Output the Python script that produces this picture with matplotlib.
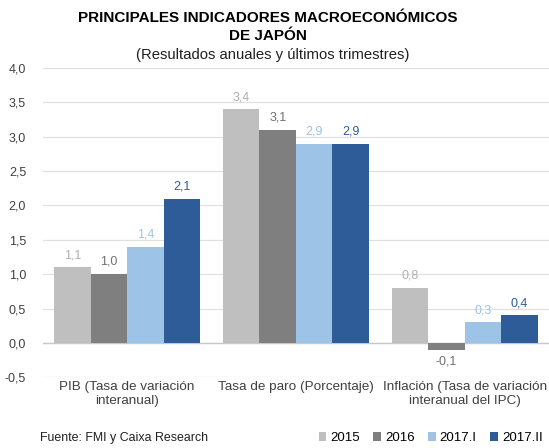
import numpy as np
import matplotlib
matplotlib.use("Agg")
import matplotlib.pyplot as plt

categories = ["PIB (Tasa de variación\ninteranual)",
              "Tasa de paro (Porcentaje)",
              "Inflación (Tasa de variación\ninteranual del IPC)"]
series = ["2015", "2016", "2017.I", "2017.II"]
v2015 = [1.1, 3.4, 0.8]
v2016 = [1.0, 3.1, -0.1]
v2017_1 = [1.4, 2.9, 0.3]
v2017_2 = [2.1, 2.9, 0.4]
yticks = [-0.5, 0.0, 0.5, 1.0, 1.5, 2.0, 2.5, 3.0, 3.5, 4.0]

colors = ["#bfbfbf", "#7f7f7f", "#9dc3e6", "#2e5c98"]
label_colors = ["#b0b0b0", "#707070", "#9dc3e6", "#2e5c98"]

plt.rcParams["font.family"] = ["Liberation Sans", "DejaVu Sans"]
fig = plt.figure(figsize=(5.49, 4.48), dpi=100)
ax = fig.add_axes([0.078, 0.158, 0.922, 0.69])

x = np.arange(len(categories))
w = 0.216
for i, (vals, c, lc) in enumerate(zip([v2015, v2016, v2017_1, v2017_2], colors, label_colors)):
    xs = x + (i - 1.5) * w
    ax.bar(xs, vals, w, color=c, label=series[i], zorder=3)
    for xi, v in zip(xs, vals):
        off = 0.09 if v >= 0 else -0.09
        ax.text(xi, v + off, f"{v:.1f}".replace(".", ","), ha="center",
                va="bottom" if v >= 0 else "top", fontsize=9, color=lc)

ax.set_xlim(-0.5, 2.5)
ax.set_ylim(-0.5, 4.0)
ax.set_yticks(yticks)
ax.set_yticklabels([f"{t:.1f}".replace(".", ",") for t in yticks], fontsize=9, color="#404040")
ax.set_xticks(x)
ax.set_xticklabels(categories, fontsize=9.7, color="#404040")
ax.tick_params(length=0, pad=3)
ax.tick_params(axis="y", pad=12)
ax.grid(axis="y", color="#e0e0e0", lw=0.9, zorder=0)
ax.axhline(0, color="#c8c8c8", lw=1, zorder=2)
for s in ax.spines.values():
    s.set_visible(False)

fig.text(0.488, 0.94, "PRINCIPALES INDICADORES MACROECONÓMICOS\nDE JAPÓN",
         ha="center", va="center", fontsize=11, fontweight="bold", linespacing=1.35)
fig.text(0.497, 0.877, "(Resultados anuales y últimos trimestres)", ha="center",
         va="center", fontsize=10.7, color="#202020")
fig.text(0.073, 0.022, "Fuente: FMI y Caixa Research", fontsize=8.9, color="#202020", va="center")

leg = fig.legend(loc="center right", bbox_to_anchor=(1.01, 0.022), ncol=4, frameon=False,
                 fontsize=9.5, handlelength=0.6, handleheight=0.6, handletextpad=0.3,
                 columnspacing=1.0)

fig.savefig("out.png", dpi=100)
